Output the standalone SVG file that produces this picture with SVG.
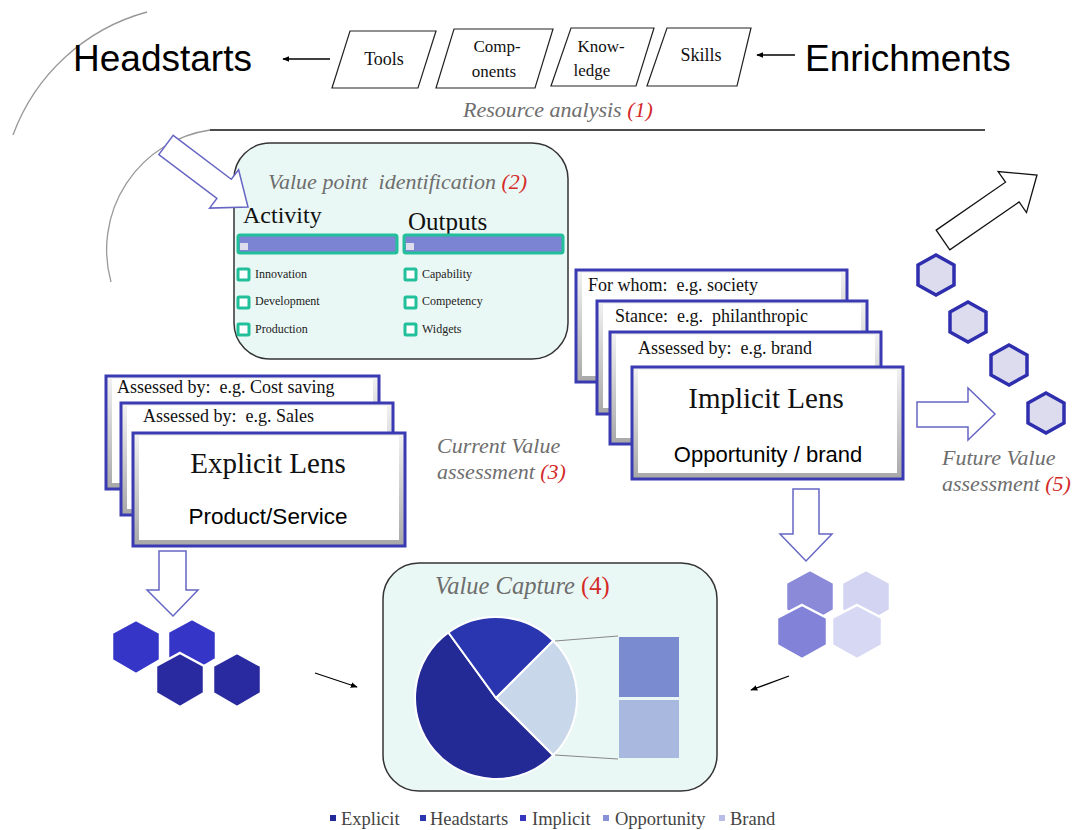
<svg xmlns="http://www.w3.org/2000/svg" width="1081" height="830" viewBox="0 0 1081 830">
<defs>
<marker id="ah" viewBox="0 0 10 10" refX="9" refY="5" markerWidth="7" markerHeight="7" orient="auto" markerUnits="userSpaceOnUse">
<path d="M0,1 L10,5 L0,9 Z" fill="#000"/>
</marker>
<linearGradient id="bev" x1="0" y1="0" x2="0" y2="1">
<stop offset="0" stop-color="#f2f2f2"/>
<stop offset="1" stop-color="#a8a8a8"/>
</linearGradient>
<style>
text{white-space:pre}
.t{font-family:"Liberation Serif",serif;fill:#111}
.a{font-family:"Liberation Sans",Arial,sans-serif;fill:#000}
.it{font-family:"Liberation Serif",serif;font-style:italic;fill:#6e6e6e}
.red{fill:#d42a2a}
.para{fill:#fff;stroke:#222;stroke-width:1.2}
.box{fill:#eaf8f5;stroke:#333;stroke-width:1.5}
.bar{fill:#7a84d2;stroke:#22c09a;stroke-width:3}
.cb{fill:#fff;stroke:#22c09a;stroke-width:3}
.small{font-family:"Liberation Serif",serif;font-size:12px;fill:#222}
.cardo{fill:url(#bev);stroke:#3a3ab2;stroke-width:3}
.cardi{fill:#fff}
.hol{fill:#fff;stroke:#6666c4;stroke-width:1.5}
.fhex{fill:#dcdcee;stroke:#2e2eae;stroke-width:3.5}
.leg{font-family:"Liberation Serif",serif;font-size:18.5px;fill:#444}
.conn{stroke:#000;stroke-width:1.3;fill:none}
</style>
</defs>
<rect width="1081" height="830" fill="#fff"/>

<g id="decor">
<path d="M147,12 A198,198 0 0 0 13,135" fill="none" stroke="#999" stroke-width="1.3"/>
<path d="M210,130 A121,121 0 0 0 111,282" fill="none" stroke="#999" stroke-width="1.3"/>
<line x1="210" y1="130" x2="985" y2="130" stroke="#111" stroke-width="1.3"/>
</g>

<g id="headstarts"><text class="a" x="73" y="71" font-size="37">Headstarts</text></g>
<g id="enrichments"><text class="a" x="805" y="71" font-size="37">Enrichments</text></g>

<g id="tools"><polygon class="para" points="350,31 436,31 418,88 332,88"/><text class="t" x="384" y="65" font-size="18" text-anchor="middle">Tools</text></g>
<g id="components"><polygon class="para" points="454,29 553,29 535,88 436,88"/><text class="t" x="497" y="52" font-size="17" text-anchor="middle">Comp-</text><text class="t" x="494" y="77" font-size="17" text-anchor="middle">onents</text></g>
<g id="knowledge"><polygon class="para" points="571,28 654,28 636,86 551,86"/><text class="t" x="601" y="52" font-size="17" text-anchor="middle">Know-</text><text class="t" x="592" y="76" font-size="17" text-anchor="middle">ledge</text></g>
<g id="skills"><polygon class="para" points="667,28 751,28 737,86 647,86"/><text class="t" x="701" y="61" font-size="18" text-anchor="middle">Skills</text></g>

<g id="resource-analysis"><text class="it" x="463" y="117" font-size="22">Resource analysis <tspan class="red">(1)</tspan></text></g>

<g id="value-point">
<rect class="box" x="234" y="143" width="334" height="216" rx="36"/>
<text class="it" x="268" y="189" font-size="22">Value point  identification <tspan class="red">(2)</tspan></text>
<text class="t" x="243" y="223" font-size="24">Activity</text>
<text class="t" x="408" y="230" font-size="25">Outputs</text>
<rect class="bar" x="238" y="235" width="159" height="18" rx="2"/>
<rect x="240" y="243" width="8" height="7" fill="#dde"/>
<rect class="bar" x="404" y="235" width="159" height="18" rx="2"/>
<rect x="406" y="243" width="8" height="7" fill="#dde"/>
<rect class="cb" x="238" y="269" width="11" height="11" rx="1"/><text class="small" x="255" y="278">Innovation</text>
<rect class="cb" x="238" y="297" width="11" height="11" rx="1"/><text class="small" x="255" y="305">Development</text>
<rect class="cb" x="238" y="324" width="11" height="11" rx="1"/><text class="small" x="255" y="333">Production</text>
<rect class="cb" x="405" y="269" width="11" height="11" rx="1"/><text class="small" x="422" y="278">Capability</text>
<rect class="cb" x="405" y="297" width="11" height="11" rx="1"/><text class="small" x="422" y="305">Competency</text>
<rect class="cb" x="405" y="324" width="11" height="11" rx="1"/><text class="small" x="422" y="333">Widgets</text>
</g>

<g id="explicit-lens">
<rect class="cardo" x="106" y="376" width="273" height="113"/><rect class="cardi" x="112" y="379" width="261" height="104"/>
<text class="t" x="117" y="393" font-size="18">Assessed by:  e.g. Cost saving</text>
<rect class="cardo" x="121" y="403" width="272" height="112"/><rect class="cardi" x="127" y="406" width="260" height="103"/>
<text class="t" x="143" y="422" font-size="18">Assessed by:  e.g. Sales</text>
<rect class="cardo" x="133" y="433" width="272" height="113"/><rect class="cardi" x="139" y="436" width="260" height="104"/>
<text class="t" x="268" y="473" font-size="29" text-anchor="middle">Explicit Lens</text>
<text class="a" x="268" y="524" font-size="22.5" text-anchor="middle">Product/Service</text>
</g>

<g id="current-value"><text class="it" x="437" y="453" font-size="22">Current Value</text><text class="it" x="437" y="479" font-size="22">assessment <tspan class="red">(3)</tspan></text></g>

<g id="implicit-lens">
<rect class="cardo" x="576" y="270" width="271" height="112"/><rect class="cardi" x="582" y="273" width="259" height="103"/>
<text class="t" x="588" y="291" font-size="18">For whom:  e.g. society</text>
<rect class="cardo" x="597" y="301" width="270" height="113"/><rect class="cardi" x="603" y="304" width="258" height="104"/>
<text class="t" x="615" y="322" font-size="18">Stance:  e.g.  philanthropic</text>
<rect class="cardo" x="610" y="332" width="271" height="112"/><rect class="cardi" x="616" y="335" width="259" height="103"/>
<text class="t" x="638" y="354" font-size="18">Assessed by:  e.g. brand</text>
<rect class="cardo" x="632" y="367" width="271" height="112"/><rect class="cardi" x="638" y="370" width="259" height="103"/>
<text class="t" x="766" y="408" font-size="29" text-anchor="middle">Implicit Lens</text>
<text class="a" x="768" y="462" font-size="22" text-anchor="middle">Opportunity / brand</text>
</g>

<g id="future-value"><text class="it" x="942" y="465" font-size="22">Future Value</text><text class="it" x="942" y="491" font-size="22">assessment <tspan class="red">(5)</tspan></text></g>

<g id="future-hexes">
<polygon class="fhex" points="936,255 954,265 954,285 936,295 918,285 918,265"/>
<polygon class="fhex" points="968,302 986,312 986,332 968,342 950,332 950,312"/>
<polygon class="fhex" points="1009,345 1027,355 1027,375 1009,385 991,375 991,355"/>
<polygon class="fhex" points="1046,393 1064,403 1064,423 1046,433 1028,423 1028,403"/>
</g>

<g id="explicit-hexes" stroke="#fff" stroke-width="2.5">
<polygon fill="#3535c8" points="136,620 160,633 160,660 136,674 112,660 112,633"/>
<polygon fill="#3535c8" points="192,619 216,632 216,659 192,673 168,659 168,632"/>
<polygon fill="#2a2aa0" points="180,653 204,666 204,693 180,707 156,693 156,666"/>
<polygon fill="#2a2aa0" points="237,653 261,666 261,693 237,707 213,693 213,666"/>
</g>

<g id="implicit-hexes" stroke="#fff" stroke-width="2.5">
<polygon fill="#8a8ad8" points="810,570 834,583 834,610 810,624 786,610 786,583"/>
<polygon fill="#d2d4f2" points="866,570 890,583 890,610 866,624 842,610 842,583"/>
<polygon fill="#8282d8" points="802,605 827,618 827,645 802,659 777,645 777,618"/>
<polygon fill="#d6d8f4" points="857,605 882,618 882,645 857,659 832,645 832,618"/>
</g>

<g id="value-capture">
<rect class="box" x="383" y="563" width="334" height="228" rx="36"/>
<text class="it" x="435" y="594" font-size="24.5">Value Capture <tspan class="red" font-style="normal">(4)</tspan></text>
<g stroke="#fff" stroke-width="2">
<path d="M496,698 L553.3,755.3 A81,81 0 1 1 448.4,632.5 Z" fill="#232a96"/>
<path d="M496,698 L448.4,632.5 A81,81 0 0 1 553.3,640.7 Z" fill="#2a35b0"/>
<path d="M496,698 L553.3,640.7 A81,81 0 0 1 553.3,755.3 Z" fill="#c9d7ea"/>
</g>
<line x1="555" y1="641" x2="618" y2="636" stroke="#888" stroke-width="1.2"/>
<line x1="555" y1="755" x2="618" y2="759" stroke="#888" stroke-width="1.2"/>
<rect x="619" y="637" width="60" height="60" fill="#7b8bd0"/>
<rect x="619" y="700" width="60" height="58" fill="#a9b8de"/>
</g>

<g id="legend">
<rect x="330" y="815" width="6" height="6" fill="#22289a"/><text class="leg" x="341" y="825">Explicit</text>
<rect x="420" y="815" width="6" height="6" fill="#2a35b0"/><text class="leg" x="430" y="825">Headstarts</text>
<rect x="520" y="815" width="6" height="6" fill="#3535c0"/><text class="leg" x="532" y="825">Implicit</text>
<rect x="603" y="815" width="6" height="6" fill="#8890d8"/><text class="leg" x="615" y="825">Opportunity</text>
<rect x="719" y="815" width="6" height="6" fill="#b8bce6"/><text class="leg" x="730" y="825">Brand</text>
</g>

<g id="connectors">
<line class="conn" x1="330" y1="59" x2="283" y2="59" marker-end="url(#ah)"/>
<line class="conn" x1="795" y1="55" x2="757" y2="55" marker-end="url(#ah)"/>
<line class="conn" x1="315" y1="673" x2="357" y2="687" marker-end="url(#ah)"/>
<line class="conn" x1="789" y1="676" x2="751" y2="690" marker-end="url(#ah)"/>
<polygon class="hol" points="173.2,135.4 231.3,179.3 238.6,169.7 248,207 209.6,208.1 216.9,198.5 158.8,154.6"/>
<polygon class="hol" points="159,551 186,551 186,590 198,590 173,616 147,590 159,590"/>
<polygon class="hol" points="793,489 819,489 819,534 832,534 806,561 780,534 793,534"/>
<polygon class="hol" points="917,402 968,402 968,388 995,414 968,440 968,427 917,427"/>
<polygon fill="#fff" stroke="#111" stroke-width="1.3" points="936.2,230.1 1005.5,182.2 998.1,171.5 1037,175 1026.5,212.6 1019.1,202 949.8,249.9"/>
</g>
</svg>
